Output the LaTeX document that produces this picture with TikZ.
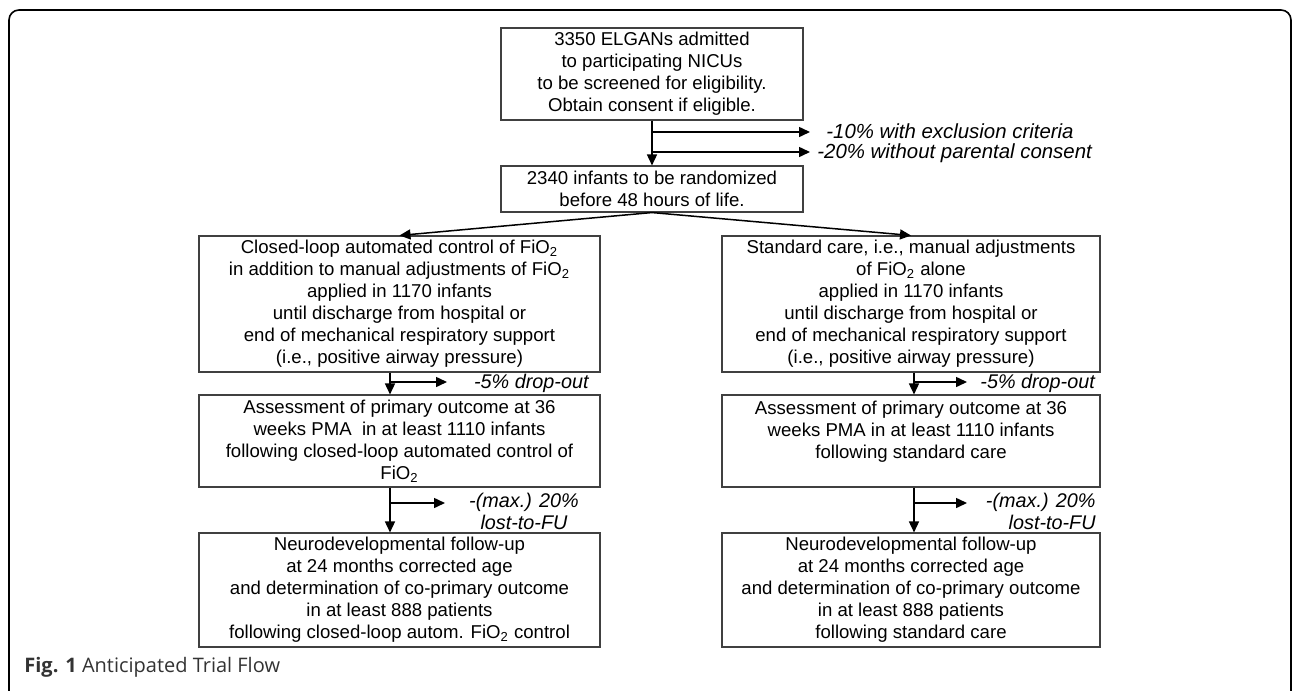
\documentclass[tikz,border=0pt]{standalone}
\usepackage{fontspec}
\setmainfont{Liberation Sans}
\newfontfamily\capfont{Open Sans}
\usepackage{xcolor}
\usetikzlibrary{arrows.meta,positioning}
\definecolor{boxc}{HTML}{404040}
\definecolor{capc}{HTML}{333333}
\tikzset{
  ar/.style={-{Triangle[length=5.5pt,width=5pt]},line width=0.75pt,black},
  bx/.style={draw=boxc,line width=0.55pt,align=center,inner sep=0pt,font=\fontsize{9.3}{11}\selectfont},
  dr/.style={font=\fontsize{9.9}{11}\selectfont\itshape,inner sep=0pt,align=center}
}
\newcommand{\fio}{FiO\textsubscript{2}}

\begin{document}
\begin{tikzpicture}[x=0.5pt,y=-0.5pt]
\useasboundingbox (0,0) rectangle (1292,691);
\clip (0,0) rectangle (1292,691);
\draw[line width=0.8pt,rounded corners=5pt] (9,760) -- (9,10) -- (1291,10) -- (1291,760);
% screening and randomization
\node[bx,minimum width=151pt,minimum height=46pt] (adm) at (652,74) {3350 ELGANs admitted\\to participating NICUs\\to be screened for eligibility.\\Obtain consent if eligible.};
\node[bx,minimum width=151pt,minimum height=23pt] (rand) at (652,189) {2340 infants to be randomized\\before 48 hours of life.};
\coordinate (e1) at (810,132); \coordinate (e2) at (810,152);
\node[dr,anchor=west,text depth=0pt,font=\fontsize{10.2}{11}\selectfont\itshape] (ex1) at (826,131) {-10\% with exclusion criteria};
\node[dr,anchor=west,font=\fontsize{10.2}{11}\selectfont\itshape] (ex2) at (817,153) {-20\% without parental consent};
\draw[ar] (adm.south) -- (rand.north);
\draw[ar] (adm.south |- e1) -- (e1); \draw[ar] (adm.south |- e2) -- (e2);
% closed-loop arm
\node[bx,minimum width=200.5pt,minimum height=68pt] (clA) at (399.5,304) {Closed-loop automated control of \fio\\in addition to manual adjustments of \fio\\applied in 1170 infants\\until discharge from hospital or\\end of mechanical respiratory support\\(i.e., positive airway pressure)};
\node[bx,minimum width=200.5pt,minimum height=46pt] (clB) at (399.5,441) {Assessment of primary outcome at 36\\weeks PMA\ \ in at least 1110 infants\\following closed-loop automated control of\\\fio};
\node[bx,minimum width=200.5pt,minimum height=57pt] (clC) at (399.5,590) {Neurodevelopmental follow-up\\at 24 months corrected age\\and determination of co-primary outcome\\in at least 888 patients\\following closed-loop autom. \fio{} control};
% standard care arm
\node[bx,minimum width=189pt,minimum height=68pt] (stA) at (911,304) {Standard care, i.e., manual adjustments\\of \fio{} alone\\applied in 1170 infants\\until discharge from hospital or\\end of mechanical respiratory support\\(i.e., positive airway pressure)};
\node[bx,minimum width=189pt,minimum height=46pt] (stB) at (911,441) {Assessment of primary outcome at 36\\weeks PMA in at least 1110 infants\\following standard care\\~};
\node[bx,minimum width=189pt,minimum height=57pt] (stC) at (911,590) {Neurodevelopmental follow-up\\at 24 months corrected age\\and determination of co-primary outcome\\in at least 888 patients\\following standard care};
\draw[ar] (rand.south) -- (clA.north); \draw[ar] (rand.south) -- (stA.north);
% losses
\coordinate (lj1) at (390,382); \coordinate (le1) at (447,382);
\coordinate (lj2) at (390,503); \coordinate (le2) at (445,503);
\coordinate (rj1) at (914,382); \coordinate (re1) at (967,382);
\coordinate (rj2) at (914,503); \coordinate (re2) at (967,503);
\node[dr,anchor=east] (ld1) at (589,383) {-5\% drop-out};
\node[dr] (ld2) at (524,511) {-(max.) 20\%\\lost-to-FU};
\node[dr,anchor=west] (rd1) at (980,383) {-5\% drop-out};
\node[dr,anchor=east,align=right] (rd2) at (1096,511) {-(max.) 20\%\\lost-to-FU};
\draw[ar] (clA.south -| lj1) -- (clB.north -| lj1); \draw[ar] (lj1) -- (le1);
\draw[ar] (clB.south -| lj2) -- (clC.north -| lj2); \draw[ar] (lj2) -- (le2);
\draw[ar] (stA.south -| rj1) -- (stB.north -| rj1); \draw[ar] (rj1) -- (re1);
\draw[ar] (stB.south -| rj2) -- (stC.north -| rj2); \draw[ar] (rj2) -- (re2);
% caption
\node[anchor=west,inner sep=0pt,text=capc,font=\capfont\fontsize{10}{11}\selectfont] (cap) at (24,667) {\textbf{Fig. 1} Anticipated Trial Flow};
\end{tikzpicture}
\end{document}
